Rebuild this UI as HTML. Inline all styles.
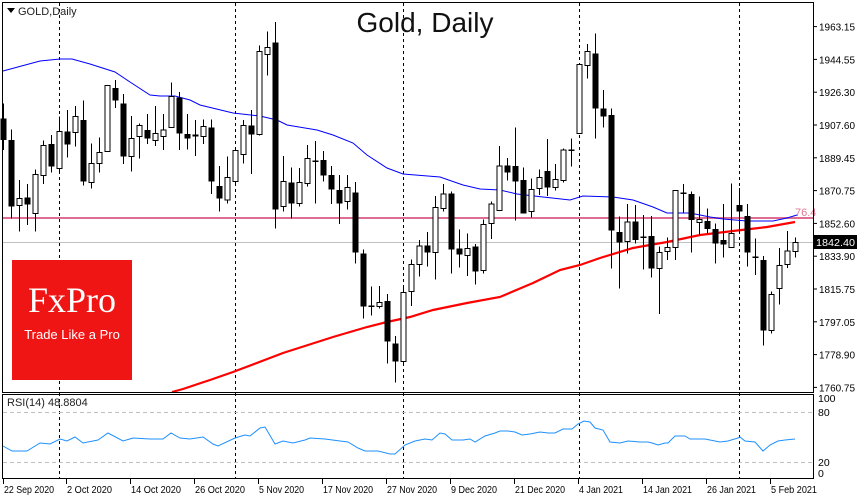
<!DOCTYPE html>
<html><head><meta charset="utf-8"><style>
html,body{margin:0;padding:0;background:#fff;}
svg{display:block;font-family:"Liberation Sans",sans-serif;}
</style></head><body>
<svg id="s" width="860" height="500" viewBox="0 0 860 500" xmlns="http://www.w3.org/2000/svg">
<rect x="0" y="0" width="860" height="500" fill="#fff"/>
<g id="grid" stroke="#000" stroke-width="1" stroke-dasharray="3,3" shape-rendering="crispEdges">
<line x1="59.5" y1="3" x2="59.5" y2="479"/>
<line x1="235.5" y1="3" x2="235.5" y2="479"/>
<line x1="403.5" y1="3" x2="403.5" y2="479"/>
<line x1="579.5" y1="3" x2="579.5" y2="479"/>
<line x1="739.5" y1="3" x2="739.5" y2="479"/>
</g>
<line x1="2" y1="218" x2="813" y2="218" stroke="#dd6e92" stroke-width="2"/>
<line x1="2" y1="242.5" x2="813" y2="242.5" stroke="#c0c0c0" stroke-width="1"/>
<text x="795" y="216" font-size="11" fill="#e07a9a">76.4</text>
<rect x="12" y="260" width="120" height="120" fill="#f01515"/>
<text x="72" y="312" font-family="'Liberation Serif',serif" font-size="36" fill="#fff" text-anchor="middle">FxPro</text>
<text x="72" y="339" font-size="13" fill="#fff" text-anchor="middle">Trade Like a Pro</text>
<g id="ma"></g>
<g id="candles" shape-rendering="crispEdges"></g>
<text x="425" y="32" font-size="28" fill="#111" text-anchor="middle">Gold, Daily</text>
<path d="M7 8 L15 8 L11 13 Z" fill="#000"/>
<text x="18" y="15" font-size="11" fill="#222">GOLD,Daily</text>
<g fill="none" stroke="#000" stroke-width="1" shape-rendering="crispEdges">
<rect x="2.5" y="2.5" width="811" height="390"/>
<rect x="2.5" y="394.5" width="811" height="84"/>
</g>
<g stroke="#c0c0c0" stroke-dasharray="4,3" shape-rendering="crispEdges">
<line x1="3" y1="412.5" x2="813" y2="412.5"/>
<line x1="3" y1="462.5" x2="813" y2="462.5"/>
</g>
<text x="7" y="406" font-size="11" fill="#222">RSI(14) 48.8804</text>
<polyline id="rsi" fill="none" stroke="#1e90ff" stroke-width="1"/>
<g id="axis" font-size="10.5" fill="#000"></g>
<rect x="814" y="235" width="43" height="14" fill="#000"/>
<text x="816" y="246" font-size="10.5" fill="#fff" textLength="39" lengthAdjust="spacingAndGlyphs">1842.40</text>
</svg>
<script>
var NS="http://www.w3.org/2000/svg";
function el(t,a,p){var e=document.createElementNS(NS,t);for(var k in a)e.setAttribute(k,a[k]);(p||document.getElementById('s')).appendChild(e);return e;}
var C=[[295,360,250,390,0],[360,560,328,595,0],[535,556,480,635,1],[532,553,492,615,0],[463,580,448,635,1],[376,466,362,492,1],[372,440,345,458,0],[334,446,290,458,1],[334,374,270,412,0],[290,337,258,380,1],
[300,485,242,497,0],[430,488,370,505,1],[397,430,353,458,1],[196,394,196,394,1],[204,242,180,264,0],[250,410,222,432,0],[355,410,288,455,1],[316,350,310,416,1],[330,356,282,372,0],[340,362,258,378,1],
[330,350,282,390,1],[230,322,188,322,1],[232,341,216,390,0],[342,356,282,388,0],[343,350,300,408,0],[320,350,298,372,1],[322,485,298,522,0],[498,536,438,575,0],[472,540,410,550,1],[392,484,388,490,1],
[316,403,300,430,1],[316,343,270,462,0],[94,343,76,346,1],[82,103,34,166,1],[67,568,6,626,0],[484,560,408,575,1],[487,550,442,595,0],[487,550,444,560,1],[415,490,375,500,1],[424,426,363,550,2],
[420,466,393,485,0],[465,508,438,552,0],[510,550,465,612,0],[502,545,465,568,1],[517,698,486,730,0],[700,860,688,895,0],[859,861,800,887,2],[848,860,798,866,1],[843,965,822,1030,0],[970,1025,948,1088,0],
[817,1025,795,1030,1],[733,815,718,858,1],[678,733,660,770,1],[676,698,636,740,0],[562,698,528,778,1],[522,565,492,575,1],[520,688,514,760,0],[685,704,628,742,0],[685,706,640,768,1],[679,755,672,794,0],
[613,751,598,760,1],[552,610,545,657,1],[438,572,378,572,1],[436,458,414,482,0],[438,485,322,602,0],[480,580,442,580,0],[508,575,475,593,1],[472,505,448,525,1],[453,502,357,528,0],[478,502,432,512,1],
[390,482,386,488,1],[391,393,355,440,2],[133,340,133,340,1],[95,136,72,176,1],[100,265,40,355,0],[266,290,210,322,0],[285,632,265,745,0],[636,668,590,805,0],[606,665,552,700,1],[604,660,555,670,0],
[651,653,585,748,2],[648,746,588,772,0],[697,746,680,882,1],[682,694,652,720,1],[511,682,511,720,1],[520,522,492,580,2],[522,600,514,698,0],[598,608,530,645,1],[603,627,565,640,0],[627,670,610,730,0],
[660,674,552,712,0],[640,682,490,682,1],[555,575,504,640,0],[588,698,552,740,0],[712,714,655,765,2],[720,932,708,977,0],[823,932,815,940,1],[736,805,684,853,1],[693,734,633,744,1],[667,694,652,712,1]];
var g=document.getElementById('candles');
C.forEach(function(c,i){
 var x=Math.round(3.3+8*i)+0.5; var f=function(z){return z/3+20;};
 var t=f(c[0]),b=f(c[1]),h=f(c[2]),l=f(c[3]);
 el('line',{x1:x,y1:h,x2:x,y2:l,stroke:'#000','stroke-width':1},g);
 if(c[4]==2){el('line',{x1:x-3,y1:t,x2:x+3,y2:t,stroke:'#000','stroke-width':1.5},g);}
 else if(c[4]==1){el('rect',{x:x-2.5,y:t,width:5,height:Math.max(1,b-t),fill:'#fff',stroke:'#000','stroke-width':1},g);}
 else{el('rect',{x:x-3,y:t,width:6,height:Math.max(1,b-t),fill:'#000'},g);}
});
var ma=document.getElementById('ma');
var blue=[[3,71],[40,61],[60,59],[72,59],[90,64],[115,72],[130,82],[150,95],[160,96],[175,96],[190,100],[200,105],[233,113],[260,116],[277,120],[287,125],[317,130],[333,135],[353,143],[367,155],[387,168],[403,174],[440,177],[463,185],[480,189],[500,190],[517,194],[543,197],[570,200],[583,196],[613,197],[633,200],[653,207],[667,213],[690,213],[710,217],[723,219],[747,221],[773,221],[787,218],[797,215]];
var red=[[172,392],[183,389],[210,380],[233,372],[283,353],[333,337],[367,327],[387,322],[410,317],[433,310],[467,303],[500,297],[533,283],[560,270],[580,265],[600,258],[633,248],[667,242],[700,235],[733,231],[767,227],[795,222]];
el('polyline',{points:blue.join(' '),fill:'none',stroke:'#0000ff','stroke-width':1},ma);
el('polyline',{points:red.join(' '),fill:'none',stroke:'#ff0000','stroke-width':2.2},ma);
var rsi=[[3,446],[12,451],[27,451],[40,443],[50,444],[60,439],[67,441],[75,437],[83,443],[98,440],[108,433],[123,441],[133,438],[150,439],[163,439],[171,433],[180,438],[190,439],[203,437],[213,444],[218,446],[235,438],[245,435],[250,436],[260,428],[265,427],[275,444],[283,441],[293,443],[305,440],[310,438],[325,439],[340,441],[348,442],[358,448],[365,451],[378,451],[390,454],[395,454],[405,445],[415,441],[425,439],[432,440],[440,433],[445,434],[452,440],[463,440],[470,439],[475,442],[485,436],[495,433],[500,431],[508,431],[515,432],[522,435],[530,434],[540,432],[548,433],[555,433],[563,429],[572,429],[578,424],[584,421],[590,422],[595,428],[603,430],[610,442],[620,443],[628,441],[640,442],[648,442],[652,443],[658,445],[665,443],[668,443],[675,436],[685,436],[690,439],[700,439],[705,439],[715,441],[720,442],[728,441],[738,438],[740,437],[745,441],[755,442],[763,451],[770,445],[778,441],[785,440],[795,439]];
document.getElementById('rsi').setAttribute('points',rsi.join(' '));
var ax=document.getElementById('axis');
var pl=['1963.15','1944.55','1926.30','1907.60','1889.45','1870.75','1852.60','1833.90','1815.75','1797.05','1778.90','1760.75'];
pl.forEach(function(p,i){var y=26.6+32.8*i;
 el('line',{x1:813,y1:y,x2:817,y2:y,stroke:'#000'},ax);
 el('text',{x:819,y:y+4,textLength:36,lengthAdjust:'spacingAndGlyphs'},ax).textContent=p;});
[['100',402],['80',416],['20',466],['0',477]].forEach(function(r){
 var t=el('text',{x:818,y:r[1]},ax);t.textContent=r[0];});
var d=[['22 Sep 2020',3,50],['2 Oct 2020',66,45],['14 Oct 2020',130,50],['26 Oct 2020',194,50],['5 Nov 2020',258,45],['17 Nov 2020',322,50],['27 Nov 2020',386,50],['9 Dec 2020',450,46],['21 Dec 2020',514,50],['4 Jan 2021',578,44],['14 Jan 2021',642,49],['26 Jan 2021',706,49],['5 Feb 2021',770,46]];
d.forEach(function(q){el('line',{x1:q[1]+0.5,y1:479,x2:q[1]+0.5,y2:484,stroke:'#000'},ax);
 el('text',{x:q[1]+1,y:493,textLength:q[2],lengthAdjust:'spacingAndGlyphs'},ax).textContent=q[0];});
</script>
</body></html>
